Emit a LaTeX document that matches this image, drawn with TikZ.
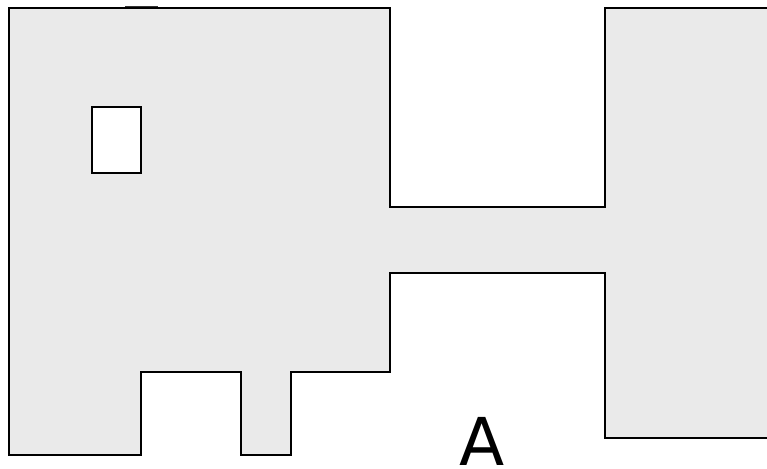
\documentclass[tikz,border=0pt]{standalone}
\usepackage{fontspec}
\setmainfont{DejaVu Sans}
\definecolor{wallfill}{HTML}{EAEAEA}
\tikzset{
  plan/.style={draw=black,line width=2pt,line join=miter,fill=wallfill},
  hole/.style={draw=black,line width=2pt,fill=white},
  biglabel/.style={font=\fontsize{66}{66}\selectfont,text=black,inner sep=0pt,anchor=base}
}
\begin{document}
\begin{tikzpicture}[x=1pt,y=-1pt]
\useasboundingbox (0,0) rectangle (767,468);
\fill[white] (0,0) rectangle (767,468);
\clip (0,0) rectangle (767,468);
\draw[plan] (9,7.7) -- (390,7.7) -- (390,206.5) -- (605,206.5) -- (605,7.7) -- (775,7.7)
  -- (775,438) -- (605,438) -- (605,272.5) -- (390,272.5) -- (390,372) -- (291,372)
  -- (291,455) -- (241,455) -- (241,372) -- (141.3,372) -- (141.3,455) -- (9,455) -- cycle;
\draw[black!80,line width=1.2pt] (125,6.6) -- (158,6.6);
\draw[hole] (91.7,107) rectangle (141.3,173);
\node[biglabel] (labelA) at (482.3,465) {A};
\end{tikzpicture}
\end{document}
